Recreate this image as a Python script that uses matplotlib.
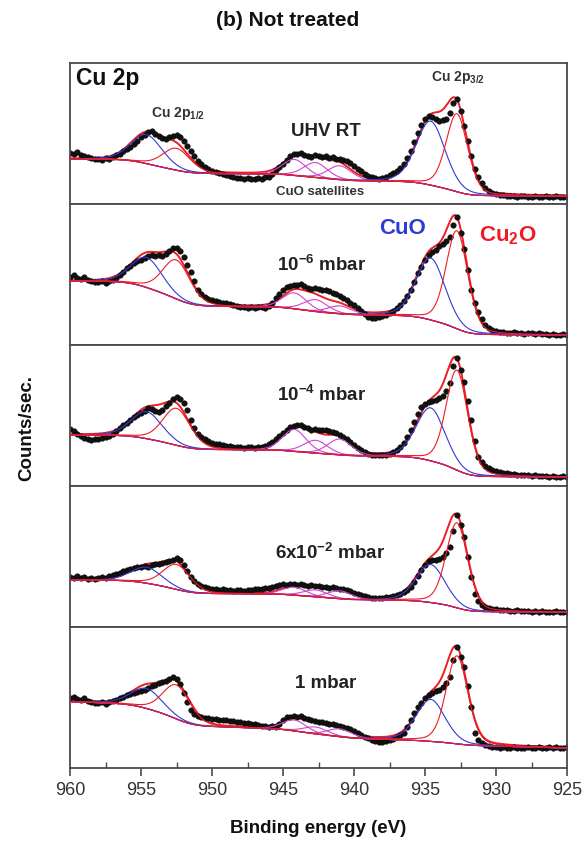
import numpy as np
import matplotlib
matplotlib.use("Agg")
import matplotlib.pyplot as plt
from matplotlib.ticker import MultipleLocator

plt.rcParams['font.family'] = ['Liberation Sans', 'DejaVu Sans']
plt.rcParams['mathtext.fontset'] = 'custom'
plt.rcParams['mathtext.rm'] = 'Liberation Sans'
plt.rcParams['mathtext.bf'] = 'Liberation Sans:bold'
plt.rcParams['mathtext.it'] = 'Liberation Sans:italic'

# Binding-energy grid of the measured spectra (960 -> 925 eV, 0.25 eV step)
energy = np.linspace(960.0, 925.0, 141)

# Measured Cu 2p counts (arbitrary units), one list per condition
counts_uhv = [
    51, 50, 52, 49, 48, 47, 46, 45,
    45, 44, 46, 45, 47, 49, 50, 53,
    55, 57, 60, 63, 67, 69, 72, 73,
    70, 68, 66, 65, 67, 68, 69, 67,
    63, 58, 53, 48, 43, 40, 37, 35,
    33, 32, 31, 30, 29, 28, 27, 26,
    26, 25, 26, 25, 25, 26, 25, 27,
    27, 30, 34, 37, 40, 44, 48, 50,
    50, 51, 49, 48, 47, 49, 48, 47,
    48, 46, 47, 45, 45, 44, 43, 41,
    38, 35, 33, 30, 28, 27, 26, 25,
    26, 27, 29, 31, 33, 36, 40, 46,
    53, 62, 71, 79, 85, 88, 87, 85,
    83, 84, 85, 91, 101, 105, 93, 78,
    63, 48, 35, 27, 21, 16, 13, 11,
    10, 9, 9, 8, 8, 8, 7, 8,
    8, 7, 7, 8, 7, 7, 8, 7,
    7, 8, 7, 7, 7]
counts_1e6 = [
    68, 70, 67, 66, 68, 65, 64, 63,
    63, 64, 62, 64, 65, 67, 70, 73,
    77, 79, 82, 84, 85, 87, 89, 90,
    89, 90, 89, 91, 94, 97, 97, 94,
    88, 80, 73, 64, 55, 51, 48, 46,
    45, 44, 43, 42, 42, 41, 40, 39,
    38, 38, 37, 38, 37, 38, 38, 37,
    39, 42, 47, 51, 55, 58, 59, 60,
    60, 61, 59, 57, 56, 57, 56, 55,
    55, 54, 52, 51, 49, 47, 45, 42,
    40, 37, 34, 31, 28, 27, 27, 28,
    29, 30, 32, 34, 37, 40, 44, 49,
    55, 63, 72, 78, 85, 90, 93, 95,
    99, 101, 104, 108, 120, 128, 112, 96,
    75, 55, 42, 33, 26, 20, 17, 15,
    14, 13, 13, 12, 12, 13, 12, 12,
    11, 12, 12, 11, 12, 11, 11, 10,
    11, 10, 10, 11, 10]
counts_1e4 = [
    57, 55, 52, 50, 48, 47, 46, 47,
    47, 48, 49, 50, 52, 55, 58, 61,
    63, 66, 69, 71, 73, 75, 78, 77,
    75, 74, 76, 80, 83, 87, 89, 87,
    83, 76, 66, 58, 52, 49, 47, 45,
    43, 42, 42, 41, 40, 40, 39, 39,
    39, 38, 39, 39, 38, 39, 39, 40,
    42, 44, 47, 50, 53, 56, 59, 60,
    61, 61, 59, 58, 56, 57, 56, 56,
    56, 55, 54, 53, 51, 49, 47, 44,
    41, 38, 36, 34, 32, 31, 31, 31,
    31, 31, 32, 34, 36, 39, 43, 49,
    56, 64, 72, 79, 82, 84, 85, 86,
    88, 90, 95, 103, 120, 128, 116, 104,
    85, 66, 45, 29, 24, 20, 18, 16,
    15, 14, 13, 13, 12, 12, 11, 11,
    11, 11, 10, 11, 10, 10, 10, 9,
    10, 9, 9, 10, 9]
counts_6e2 = [
    50, 49, 51, 49, 50, 48, 49, 48,
    49, 50, 49, 51, 52, 53, 54, 56,
    57, 58, 59, 60, 60, 61, 60, 62,
    63, 63, 64, 65, 66, 67, 69, 67,
    62, 56, 50, 46, 43, 41, 40, 39,
    38, 38, 37, 38, 37, 37, 36, 37,
    37, 36, 37, 37, 38, 38, 38, 39,
    39, 40, 41, 42, 43, 42, 43, 43,
    42, 43, 42, 41, 42, 41, 41, 40,
    40, 39, 40, 39, 38, 38, 37, 36,
    34, 33, 32, 31, 30, 29, 29, 29,
    29, 30, 30, 31, 32, 33, 35, 37,
    40, 45, 51, 57, 62, 66, 67, 67,
    68, 70, 74, 80, 96, 112, 102, 90,
    70, 50, 33, 26, 22, 20, 19, 18,
    18, 17, 17, 17, 16, 16, 17, 16,
    16, 16, 15, 16, 15, 16, 15, 15,
    15, 16, 15, 15, 15]
counts_1mbar = [
    70, 71, 69, 68, 70, 67, 66, 65,
    65, 66, 64, 66, 67, 68, 70, 71,
    73, 74, 75, 76, 77, 78, 80, 82,
    83, 85, 86, 87, 89, 91, 89, 84,
    75, 66, 58, 54, 52, 51, 50, 50,
    49, 49, 48, 48, 48, 47, 47, 46,
    46, 45, 45, 44, 44, 43, 42, 42,
    41, 42, 41, 44, 48, 51, 51, 52,
    51, 52, 50, 49, 48, 47, 46, 46,
    45, 44, 44, 43, 42, 41, 40, 39,
    37, 35, 33, 31, 30, 28, 27, 26,
    26, 27, 28, 29, 31, 33, 35, 41,
    48, 55, 61, 65, 70, 73, 75, 77,
    78, 81, 85, 91, 108, 121, 111, 101,
    82, 61, 35, 28, 25, 23, 22, 21,
    21, 20, 21, 20, 20, 21, 20, 20,
    20, 21, 20, 20, 21, 20, 20, 21,
    20, 21, 20, 20, 21]
spectra = [counts_uhv, counts_1e6, counts_1e4, counts_6e2, counts_1mbar]

conditions = ["UHV RT", r"$\mathbf{10^{-6}\ mbar}$", r"$\mathbf{10^{-4}\ mbar}$",
              r"$\mathbf{6x10^{-2}\ mbar}$", "1 mbar"]

# Fit components: (2p3/2, 2p1/2) centres and widths in eV
cu2o_center = [932.75, 952.5]
cu2o_fwhm = [1.8, 2.3]
cuo_center = [934.6, 954.6]
cuo_fwhm = [2.4, 2.6]
sat_center = [944.2, 942.7, 941.0]
sat_fwhm = [2.0, 2.0, 2.0]

# Fitted peak heights per condition
cu2o_32_height = [78, 98, 100, 85, 88]
cuo_32_height = [64, 62, 53, 38, 42]
cu2o_12_height = [22, 39, 37, 25, 34]
cuo_12_height = [29, 30, 27, 16, 20]
sat_height = [[16, 15, 14], [16, 12, 8], [22, 13, 16], [8, 7, 8], [11, 7, 8]]

# Shirley-type background: level at low BE, linear slope and step per peak group
bg_low = [8, 10, 9, 15, 20]
bg_slope = [0.0, 0.0, 0.0, 0.0, 0.35]
step_32 = [15, 20, 21, 12, 4]
step_sat = [7, 8, 6, 6, 8]
step_12 = [15, 26, 15, 14, 22]

C_RED = '#ee1c24'
C_BLUE = '#2e3bd6'
C_MAG = '#cf45cf'


def pseudo_voigt(x, c, h, w, m=0.25):
    t = 4.0 * ((x - c) / w) ** 2
    return h * (m / (1.0 + t) + (1.0 - m) * np.exp(-np.log(2.0) * t))


def shirley_step(x, group):
    # x ascending; normalised cumulative area of the group from low BE upward
    total = np.sum(group, axis=0)
    cum = np.cumsum(total)
    return cum / cum[-1]


xf = np.linspace(925.0, 960.0, 1401)

fig = plt.figure(figsize=(5.87, 8.47), dpi=100)
gs = fig.add_gridspec(5, 1, left=70 / 587, right=567 / 587,
                      top=1 - 63 / 847, bottom=1 - 768 / 847, hspace=0)
axes = [fig.add_subplot(gs[i, 0]) for i in range(5)]

for i, ax in enumerate(axes):
    cu2o = [pseudo_voigt(xf, cu2o_center[0], cu2o_32_height[i], cu2o_fwhm[0]),
            pseudo_voigt(xf, cu2o_center[1], cu2o_12_height[i], cu2o_fwhm[1])]
    cuo = [pseudo_voigt(xf, cuo_center[0], cuo_32_height[i], cuo_fwhm[0]),
           pseudo_voigt(xf, cuo_center[1], cuo_12_height[i], cuo_fwhm[1])]
    sats = [pseudo_voigt(xf, c, h, w)
            for c, h, w in zip(sat_center, sat_height[i], sat_fwhm)]

    bg = (bg_low[i] + bg_slope[i] * (xf - 925.0)
          + step_32[i] * shirley_step(xf, [cu2o[0], cuo[0]])
          + step_sat[i] * shirley_step(xf, sats)
          + step_12[i] * shirley_step(xf, [cu2o[1], cuo[1]]))
    envelope = bg + sum(cu2o) + sum(cuo) + sum(sats)

    ax.plot(xf, envelope, color=C_RED, lw=1.4, zorder=1.5)
    ax.plot(energy, spectra[i], 'o', ms=4.0, color='#121212', mec='#000000',
            mew=0.3, zorder=2)
    ax.plot(xf, bg, color=C_MAG, lw=0.8, zorder=3)
    for s in sats:
        ax.plot(xf, bg + s, color=C_MAG, lw=0.8, zorder=3)
    for p in cuo:
        ax.plot(xf, bg + p, color=C_BLUE, lw=0.8, zorder=3)
    for p in cu2o:
        ax.plot(xf, bg + p, color=C_RED, lw=0.8, zorder=3)

    ax.set_xlim(960, 925)
    ax.set_ylim(0, 141)
    ax.set_yticks([])
    for sp in ax.spines.values():
        sp.set_color('#4a4a4a')
        sp.set_linewidth(1.3)
    if i < 4:
        ax.tick_params(axis='x', which='both', bottom=False, labelbottom=False)
    else:
        ax.xaxis.set_major_locator(MultipleLocator(5))
        ax.xaxis.set_minor_locator(MultipleLocator(2.5))
        ax.tick_params(axis='x', which='major', direction='out', length=6,
                       width=1.2, color='#4a4a4a', labelsize=13,
                       labelcolor='#333333', pad=4)
        ax.tick_params(axis='x', which='minor', direction='in', length=4,
                       width=1.0, color='#4a4a4a')

label_pos = [(942.0, 73), (942.3, 80), (942.3, 91), (941.7, 74), (942.0, 85)]
for ax, lab, (lx, ly) in zip(axes, conditions, label_pos):
    ax.text(lx, ly, lab, ha='center', va='center', fontsize=13.5,
            fontweight='bold', color='#222222')

a1 = axes[0]
a1.text(959.6, 126, 'Cu 2p', ha='left', va='center', fontsize=16.5,
        fontweight='bold', color='#111111')
a1.text(952.4, 90, r'$\mathbf{Cu\ 2p_{1/2}}$', ha='center', va='center',
        fontsize=10, color='#333333')
a1.text(932.7, 126, r'$\mathbf{Cu\ 2p_{3/2}}$', ha='center', va='center',
        fontsize=10, color='#333333')
a1.text(942.4, 12, 'CuO satellites', ha='center', va='center', fontsize=9.5,
        fontweight='bold', color='#333333')

a2 = axes[1]
a2.text(936.6, 116, 'CuO', ha='center', va='center', fontsize=16,
        fontweight='bold', color=C_BLUE)
a2.text(929.2, 109, r'$\mathbf{Cu_2O}$', ha='center', va='center',
        fontsize=16, color=C_RED)

fig.text(0.49, 1 - 20 / 847, '(b) Not treated', ha='center', va='center',
         fontsize=15, fontweight='bold', color='#111111')
fig.text(318 / 587, 1 - 828 / 847, 'Binding energy (eV)', ha='center',
         va='center', fontsize=13.5, fontweight='bold', color='#111111')
fig.text(27 / 587, 1 - 428 / 847, 'Counts/sec.', ha='center', va='center',
         rotation=90, fontsize=13.5, fontweight='bold', color='#111111')

fig.savefig('out.png', dpi=100, facecolor='white')
